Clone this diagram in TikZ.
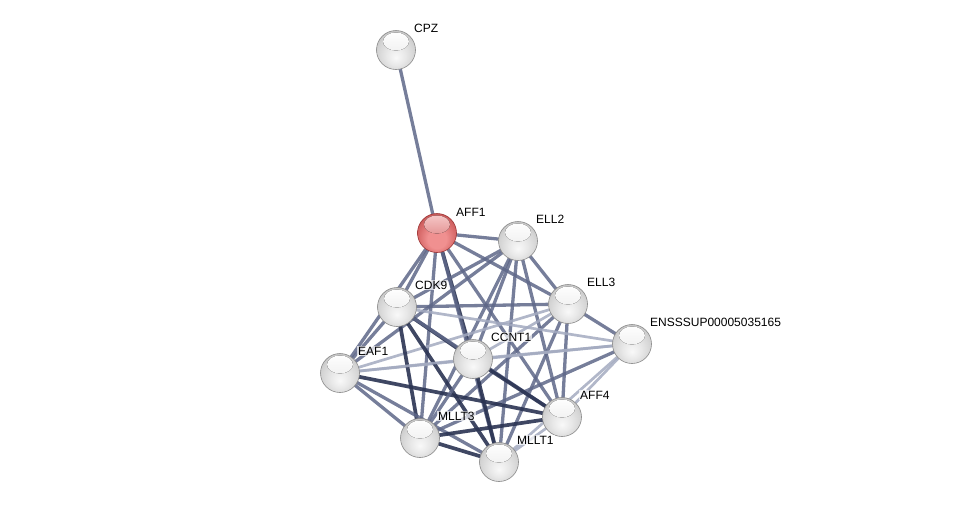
\documentclass[tikz,border=0pt]{standalone}
\usepackage{fontspec}
\setmainfont{Liberation Sans}
\usetikzlibrary{calc}
\pgfdeclarelayer{bg}
\pgfsetlayers{bg,main}
\definecolor{edgemid}{HTML}{5E6788}
\definecolor{edgedark}{HTML}{2A3352}
\definecolor{edgelight}{HTML}{A3AAC0}
\definecolor{gedge}{HTML}{8A8A8A}
\definecolor{redA}{HTML}{F09090}
\definecolor{redB}{HTML}{D66868}
\definecolor{redC}{HTML}{C05252}
\definecolor{redD}{HTML}{9C3535}
\definecolor{redH}{HTML}{F6CACA}
\pgfdeclareradialshading{gsphere}{\pgfpoint{0bp}{-10bp}}{%
 color(0bp)=(gray!5); color(12bp)=(gray!18); color(24bp)=(gray!34); color(32bp)=(gray!50); color(36bp)=(gray!62); color(50bp)=(gray!62)}
\pgfdeclareradialshading{rsphere}{\pgfpoint{0bp}{-10bp}}{%
 color(0bp)=(redA); color(12bp)=(redA); color(24bp)=(redB); color(32bp)=(redC); color(36bp)=(redD); color(50bp)=(redD)}
\tikzset{
 prot/.style={circle, minimum size=39pt, inner sep=0pt, shading=gsphere, draw=gedge, line width=0.6pt,
   path picture={\fill[top color=white, bottom color=gray!20] ([shift={(0,-8.5)}]path picture bounding box.center) ellipse (13 and 9);}},
 protred/.style={circle, minimum size=39pt, inner sep=0pt, shading=rsphere, draw=redD, line width=0.6pt,
   path picture={\fill[top color=redH, bottom color=redB] ([shift={(0,-8.5)}]path picture bounding box.center) ellipse (13 and 9);}},
 lbl/.style={anchor=west, inner sep=1pt, fill=white, fill opacity=0.7, text opacity=1, font=\fontsize{12}{12}\selectfont},
 em/.style={draw=edgemid, line width=3.3pt, opacity=0.85},
 ed/.style={draw=edgedark, line width=3.7pt, opacity=0.9},
 el/.style={draw=edgelight, line width=2.7pt, opacity=0.85},
}
\begin{document}
\begin{tikzpicture}[x=1pt,y=-1pt]
\useasboundingbox (0,0) rectangle (976,507);
% nodes
\node[prot] (CPZ) at (396,50) {};
\node[protred] (AFF1) at (437,233) {};
\node[prot] (ELL2) at (518,241) {};
\node[prot] (CDK9) at (397,307) {};
\node[prot] (ELL3) at (568,304) {};
\node[prot] (ENS) at (632,344) {};
\node[prot] (EAF1) at (340,373) {};
\node[prot] (CCNT1) at (473,359) {};
\node[prot] (AFF4) at (562,417) {};
\node[prot] (MLLT3) at (420,438) {};
\node[prot] (MLLT1) at (499,462) {};
% labels
\node[lbl] (lCPZ) at ([shift={(17,-22)}]CPZ.center) {CPZ};
\node[lbl] (lAFF1) at ([shift={(18,-21)}]AFF1.center) {AFF1};
\node[lbl] (lELL2) at ([shift={(17,-22)}]ELL2.center) {ELL2};
\node[lbl] (lCDK9) at ([shift={(17,-22)}]CDK9.center) {CDK9};
\node[lbl] (lELL3) at ([shift={(18,-22)}]ELL3.center) {ELL3};
\node[lbl] (lENS) at ([shift={(17,-22)}]ENS.center) {ENSSSUP00005035165};
\node[lbl] (lEAF1) at ([shift={(17,-22)}]EAF1.center) {EAF1};
\node[lbl] (lCCNT1) at ([shift={(17,-22)}]CCNT1.center) {CCNT1};
\node[lbl] (lAFF4) at ([shift={(17,-22)}]AFF4.center) {AFF4};
\node[lbl] (lMLLT3) at ([shift={(17,-22)}]MLLT3.center) {MLLT3};
\node[lbl] (lMLLT1) at ([shift={(17,-22)}]MLLT1.center) {MLLT1};
% edges
\begin{pgfonlayer}{bg}
\path[em] (AFF1.center) -- (CPZ.center);
\path[em] (AFF1.center) -- (ELL2.center);
\path[em] (AFF1.center) -- (ELL3.center);
\path[em] (AFF1.center) -- (CDK9.center);
\path[em] (AFF1.center) -- (EAF1.center);
\path[ed] (AFF1.center) -- (CCNT1.center);
\path[em] (AFF1.center) -- (MLLT3.center);
\path[em] (AFF1.center) -- (MLLT1.center);
\path[em] (AFF1.center) -- (AFF4.center);
\path[em] (ELL2.center) -- (CDK9.center);
\path[em] (ELL2.center) -- (EAF1.center);
\path[em] (ELL2.center) -- (ELL3.center);
\path[em] (ELL2.center) -- (CCNT1.center);
\path[em] (ELL2.center) -- (AFF4.center);
\path[em] (ELL2.center) -- (MLLT3.center);
\path[em] (ELL2.center) -- (MLLT1.center);
\path[em] (ELL3.center) -- (CDK9.center);
\path[em] (ELL3.center) -- (ENS.center);
\path[el] (ELL3.center) -- (EAF1.center);
\path[el] (ELL3.center) -- (CCNT1.center);
\path[em] (ELL3.center) -- (AFF4.center);
\path[em] (ELL3.center) -- (MLLT3.center);
\path[em] (ELL3.center) -- (MLLT1.center);
\path[el] (ENS.center) -- (CDK9.center);
\path[el] (ENS.center) -- (EAF1.center);
\path[el] (ENS.center) -- (CCNT1.center);
\path[el] (ENS.center) -- (AFF4.center);
\path[em] (ENS.center) -- (MLLT3.center);
\path[el] (ENS.center) -- (MLLT1.center);
\path[em] (CDK9.center) -- (EAF1.center);
\path[ed] (CDK9.center) -- (CCNT1.center);
\path[em] (CDK9.center) -- (AFF4.center);
\path[ed] (CDK9.center) -- (MLLT3.center);
\path[ed] (CDK9.center) -- (MLLT1.center);
\path[el] (EAF1.center) -- (CCNT1.center);
\path[ed] (EAF1.center) -- (AFF4.center);
\path[em] (EAF1.center) -- (MLLT3.center);
\path[em] (EAF1.center) -- (MLLT1.center);
\path[ed] (CCNT1.center) -- (AFF4.center);
\path[em] (CCNT1.center) -- (MLLT3.center);
\path[ed] (CCNT1.center) -- (MLLT1.center);
\path[ed] (AFF4.center) -- (MLLT3.center);
\path[el] (AFF4.center) -- (MLLT1.center);
\path[ed] (MLLT3.center) -- (MLLT1.center);
\end{pgfonlayer}
\end{tikzpicture}
\end{document}
